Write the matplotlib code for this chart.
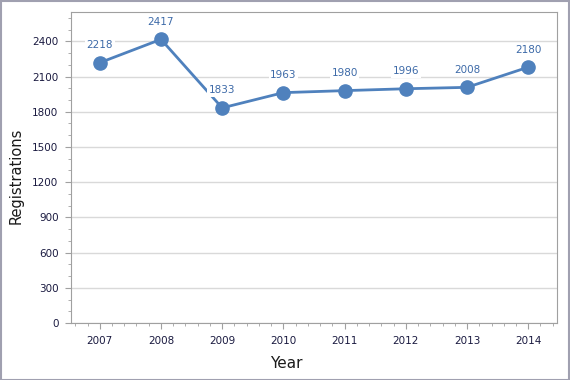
import matplotlib
matplotlib.use("Agg")
import matplotlib.pyplot as plt
from matplotlib.ticker import MultipleLocator

years = [2007, 2008, 2009, 2010, 2011, 2012, 2013, 2014]
registrations = [2218, 2417, 1833, 1963, 1980, 1996, 2008, 2180]
yticks = [0, 300, 600, 900, 1200, 1500, 1800, 2100, 2400]

line_color = "#4f81bd"
label_color = "#3d6aa8"
tick_color = "#1a1a40"

fig = plt.figure(figsize=(5.7, 3.8), dpi=100)
fig.patch.set_facecolor("white")
ax = fig.add_axes([71/570, (380-323)/380, (557-71)/570, (323-12)/380])

ax.plot(years, registrations, color=line_color, lw=2, marker="o", ms=9.5,
        markerfacecolor=line_color, markeredgecolor=line_color, zorder=3)

for x, y in zip(years, registrations):
    ax.annotate(str(y), xy=(x, y), xytext=(0, 9), textcoords="offset points",
                ha="center", va="bottom", fontsize=7.5, color=label_color,
                zorder=4,
                bbox=dict(boxstyle="square,pad=0.15", fc="white", ec="none"))

ax.set_xlim(2006.53, 2014.47)
ax.set_ylim(0, 2650)
ax.set_xticks(years)
ax.set_xticklabels([str(y) for y in years])
ax.set_yticks(yticks)
ax.xaxis.set_minor_locator(MultipleLocator(0.2))
ax.yaxis.set_minor_locator(MultipleLocator(100))
ax.grid(axis="y", which="major", color="#d9d9d9", lw=1)
ax.set_axisbelow(True)

for s in ax.spines.values():
    s.set_color("#a0a0a0")
ax.tick_params(axis="both", which="major", length=4, color="#a0a0a0",
               labelsize=7.5, labelcolor=tick_color, pad=5)
ax.tick_params(axis="both", which="minor", length=2.5, color="#a0a0a0")

ax.set_xlabel("Year", fontsize=11, color="#1a1a1a")
ax.set_ylabel("Registrations", fontsize=10.5, color="#1a1a1a")
ax.xaxis.label.set_verticalalignment("center")
ax.yaxis.label.set_verticalalignment("center")
ax.xaxis.set_label_coords((286-71)/486, -(363-323)/311)
ax.yaxis.set_label_coords(-(71-16)/486, (323-176)/311)

fig.add_artist(plt.Rectangle((0.5/570, 0.5/380), 1 - 1.5/570, 1 - 1.5/380,
                             transform=fig.transFigure, fill=False,
                             ec="#a0a0b0", lw=1.5))

fig.savefig("out.png", dpi=100)
